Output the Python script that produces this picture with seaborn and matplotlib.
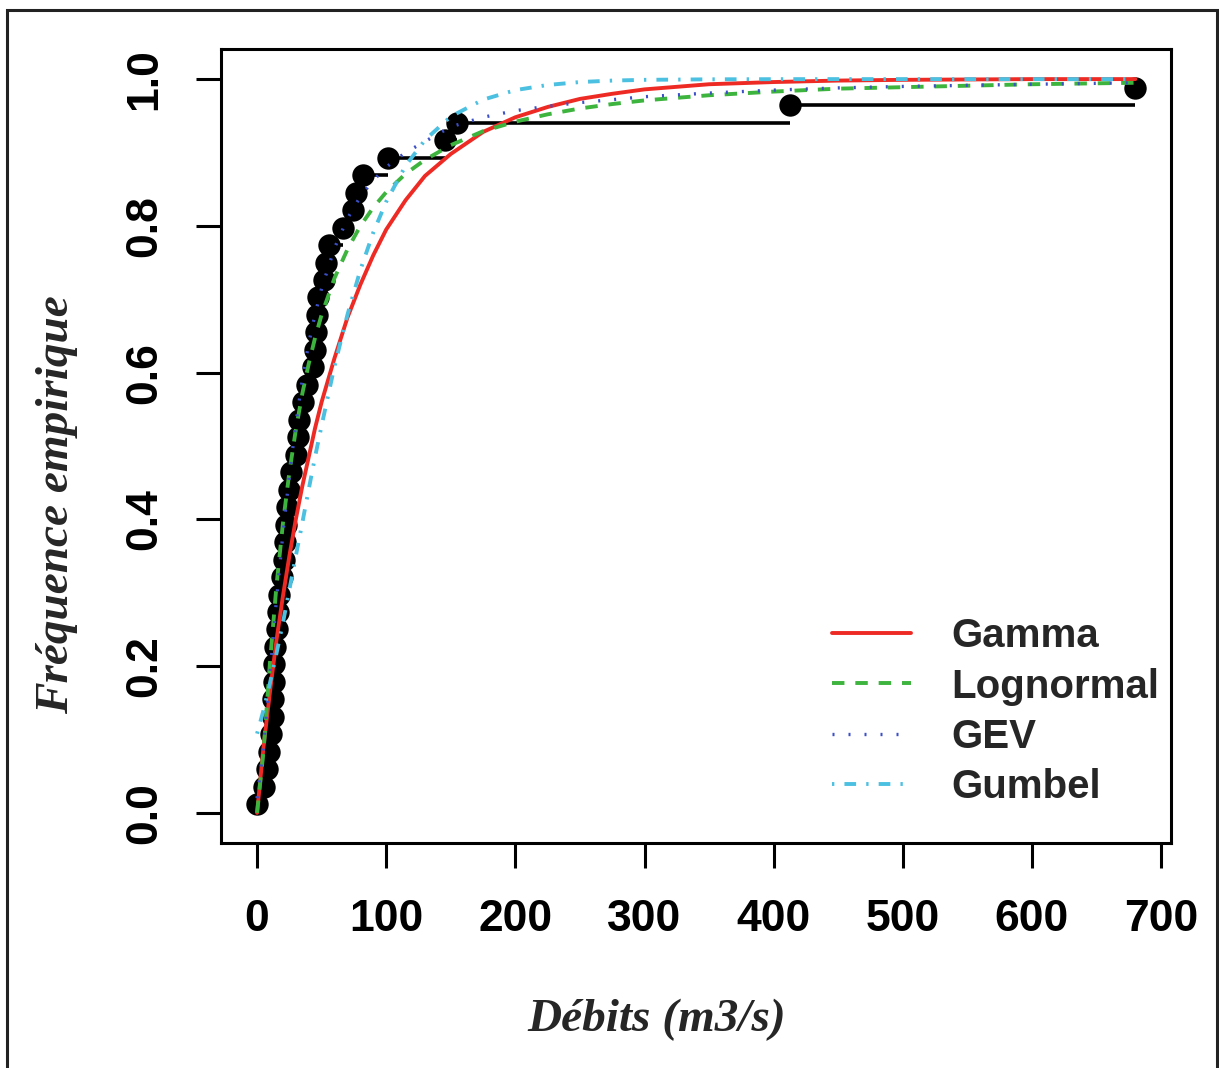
import numpy as np
import pandas as pd
import matplotlib
matplotlib.use("Agg")
import matplotlib.pyplot as plt
import seaborn as sns
from matplotlib.patches import Rectangle

debits = [0, 5.5, 8, 9.5, 11, 12, 12.5, 12.8, 13, 14,
          15.5, 16, 17, 19, 20.5, 21.5, 22.5, 23.5, 25, 26,
          30.5, 31.5, 32.5, 35.5, 38.5, 43, 44.5, 45.5, 46.5, 47.5,
          52, 53, 56, 66.5, 74.5, 76.5, 82, 101.5, 145.5, 155,
          413, 680]

# --- fitted CDFs, values ---
x_fit = [0, 5, 10, 15, 20, 25, 30, 35, 40, 45, 50, 60, 70, 80, 90, 100,
         115, 130, 150, 175, 200, 225, 250, 275, 300, 350, 400, 450, 500, 600, 680]
gamma_cdf = [0.0, 0.09, 0.165, 0.235, 0.295, 0.35, 0.40, 0.445, 0.485, 0.525, 0.56,
             0.62, 0.675, 0.72, 0.76, 0.795, 0.835, 0.868, 0.898, 0.928, 0.948,
             0.962, 0.973, 0.980, 0.986, 0.993, 0.996, 0.998, 0.999, 1.0, 1.0]
lognormal_cdf = [0.0, 0.084, 0.205, 0.309, 0.394, 0.464, 0.522, 0.571, 0.612, 0.648, 0.679,
                 0.729, 0.768, 0.80, 0.825, 0.846, 0.871, 0.89, 0.91, 0.929, 0.942,
                 0.952, 0.96, 0.966, 0.971, 0.978, 0.983, 0.987, 0.989, 0.993, 0.995]
gev_cdf = [0.02, 0.09, 0.19, 0.29, 0.38, 0.46, 0.53, 0.59, 0.64, 0.68, 0.715,
           0.77, 0.81, 0.84, 0.862, 0.88, 0.90, 0.915, 0.935, 0.948, 0.957,
           0.963, 0.968, 0.972, 0.976, 0.981, 0.985, 0.988, 0.99, 0.993, 0.995]
gumbel_cdf = [0.108, 0.14, 0.177, 0.217, 0.259, 0.304, 0.35, 0.395, 0.441, 0.486, 0.528,
              0.609, 0.679, 0.74, 0.791, 0.833, 0.882, 0.917, 0.949, 0.972, 0.985,
              0.992, 0.996, 0.998, 0.999, 0.9997, 0.9999, 1.0, 1.0, 1.0, 1.0]

labels = ["Gamma", "Lognormal", "GEV", "Gumbel"]
colors = ["#EE2A24", "#3DB43D", "#3A4FC8", "#4CC0E0"]

# empirical frequencies (Hazen plotting positions)
n = len(debits)
freq = (np.arange(1, n + 1) - 0.5) / n
emp = pd.DataFrame({"x": debits, "f": freq})

sns.set_style("ticks")
fig = plt.figure(figsize=(12.19, 10.68), dpi=100)
ax = fig.add_axes([0.181, 0.2107, 0.7796, 0.7434])

# horizontal steps of the empirical CDF
ax.hlines(freq[:-1], debits[:-1], debits[1:], colors="black", lw=2.6, zorder=3)
sns.scatterplot(data=emp, x="x", y="f", ax=ax, color="black", s=260,
                edgecolor="black", linewidth=0, zorder=4, legend=False)

fits = pd.DataFrame({"x": x_fit, "Gamma": gamma_cdf, "Lognormal": lognormal_cdf,
                     "GEV": gev_cdf, "Gumbel": gumbel_cdf})
styles = [(None, 2.8), ((3.2, 2.8), 2.8), ((0.6, 4.2), 2.4), ((0.6, 2.6, 3.0, 2.6), 2.8)]
for lab, col, (dash, lw) in zip(labels, colors, styles):
    sns.lineplot(data=fits, x="x", y=lab, ax=ax, color=col, lw=lw, label=lab, zorder=5)
    if dash is not None:
        ax.lines[-1].set_dashes(dash)

ax.set_xlim(-28.2, 707.6)
ax.set_ylim(-0.041, 1.041)
ax.set_xticks([0, 100, 200, 300, 400, 500, 600, 700])
ax.set_yticks([0.0, 0.2, 0.4, 0.6, 0.8, 1.0])
ax.set_yticklabels(["0.0", "0.2", "0.4", "0.6", "0.8", "1.0"])
for sp in ax.spines.values():
    sp.set_linewidth(2.2)
    sp.set_color("black")
ax.tick_params(length=18, width=2.2, pad=22, labelsize=32, colors="black")
for t in ax.get_xticklabels() + ax.get_yticklabels():
    t.set_fontfamily("Liberation Sans")
    t.set_fontweight("bold")
for t in ax.get_yticklabels():
    t.set_rotation(90)
    t.set_va("center")

ax.set_xlabel("Débits (m3/s)", family="Liberation Serif", style="italic",
              weight="bold", fontsize=34)
ax.set_ylabel("Fréquence empirique", family="Liberation Serif", style="italic",
              weight="bold", fontsize=34)
ax.xaxis.set_label_coords(0.459, -0.223)
ax.xaxis.label.set_va("center")
ax.yaxis.set_label_coords(-0.172, 0.426)
ax.yaxis.label.set_va("center")

leg = ax.legend(loc="upper left", bbox_to_anchor=(0.643, 0.284), frameon=False,
                prop={"family": "Liberation Sans", "weight": "bold", "size": 29},
                handlelength=1.98, handletextpad=1.0, labelspacing=0.3,
                borderpad=0, borderaxespad=0)

# outer frame of the figure
fig.add_artist(Rectangle((7 / 1219, -0.05), 1210 / 1219, 1058 / 1068 + 0.05,
                         transform=fig.transFigure, fill=False, lw=2.2, ec="#222222"))

fig.savefig("out.png", dpi=100)
